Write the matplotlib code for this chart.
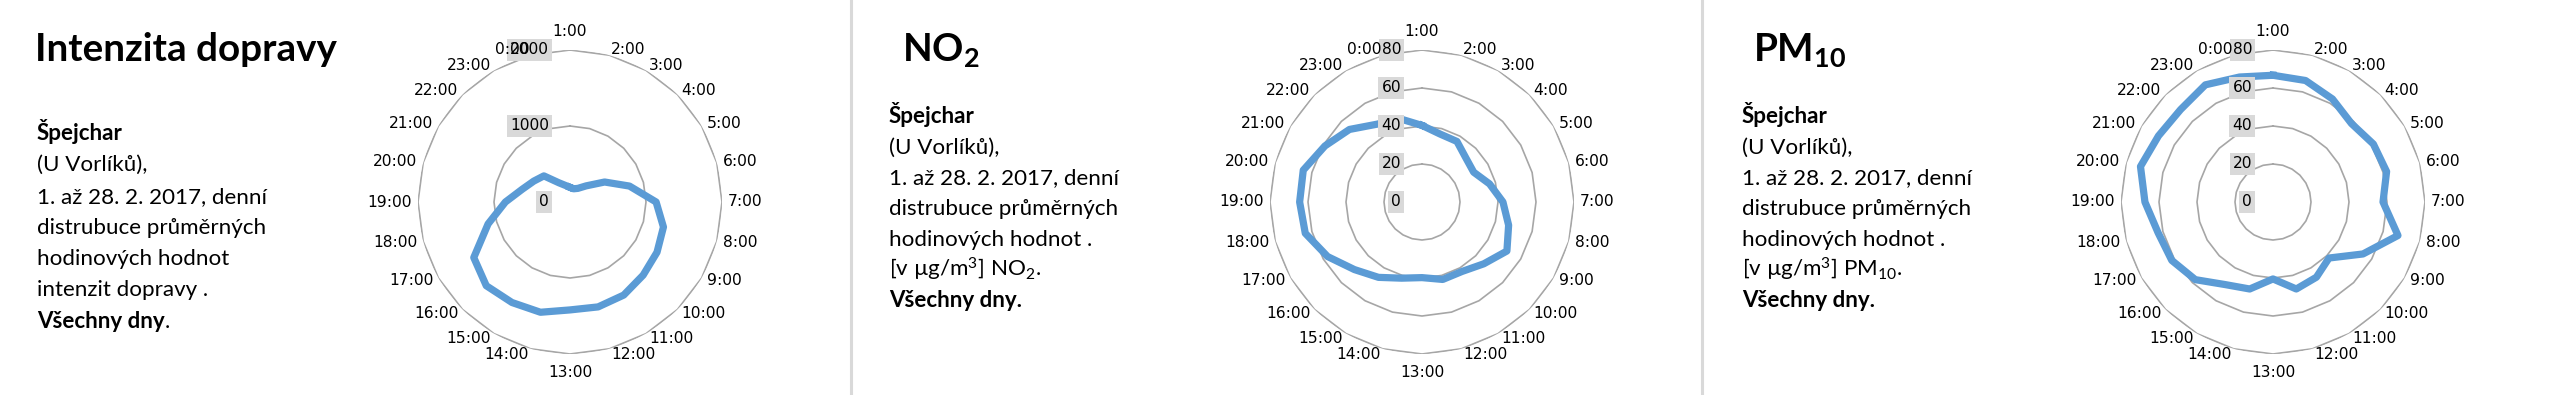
import numpy as np
import matplotlib
matplotlib.use('Agg')
import matplotlib.pyplot as plt
from matplotlib.lines import Line2D

plt.rcParams['mathtext.fontset'] = 'custom'
plt.rcParams['mathtext.rm'] = 'Lato'
plt.rcParams['mathtext.bf'] = 'Lato:bold'
plt.rcParams['mathtext.it'] = 'Lato:italic'

# hours in the order they go round the radar (1:00 at the top, clockwise)
hours = ['1:00', '2:00', '3:00', '4:00', '5:00', '6:00', '7:00', '8:00',
         '9:00', '10:00', '11:00', '12:00', '13:00', '14:00', '15:00', '16:00',
         '17:00', '18:00', '19:00', '20:00', '21:00', '22:00', '23:00', '0:00']

# average hourly values, Špejchar (U Vorlíků), 1.-28. 2. 2017
traffic = [193, 180, 207, 300, 526, 810, 1133, 1273, 1322, 1361, 1414, 1429,
           1420, 1502, 1527, 1558, 1462, 1116, 850, 650, 550, 486, 292, 225]
no2 = [40.3, 37.0, 36.8, 32.7, 31.4, 36.8, 42.6, 47.2, 51.6, 46.0, 42.2, 42.2,
       39.8, 41.5, 45.8, 50.3, 57.4, 63.6, 64.4, 64.7, 59.0, 54.0, 47.3, 45.4]
pm10 = [66.7, 66.2, 62.6, 58.4, 61.0, 61.9, 57.9, 68.1, 54.7, 41.7, 45.7, 47.4,
        40.5, 47.4, 50.2, 57.8, 61.5, 62.6, 67.4, 72.2, 69.6, 68.8, 71.2, 68.1]

traffic_ticks = [0, 1000, 2000]
conc_ticks = [0, 20, 40, 60, 80]

W, H = 2553, 395
R = 152  # radar radius in pixels
BODY = 16.1
TITLE = 27.8
fig = plt.figure(figsize=(W / 100, H / 100), dpi=100)


def px(x, y):
    return x / W, 1 - y / H


def radar(cx, cy, values, rticks):
    ax = fig.add_axes([(cx - R) / W, (H - cy - R) / H, 2 * R / W, 2 * R / H],
                      projection='polar')
    ax.set_theta_zero_location('N')
    ax.set_theta_direction(-1)
    ax.set_ylim(0, rticks[-1])
    ax.grid(False)
    ax.set_xticks([])
    ax.set_yticks([])
    ax.spines['polar'].set_visible(False)
    ax.patch.set_alpha(0)

    theta = np.arange(len(hours)) * 2 * np.pi / len(hours)
    closed = np.append(theta, theta[0])

    # polygon gridlines like in Excel radar charts
    for r in rticks[1:]:
        ax.plot(closed, [r] * len(closed), color='#a6a6a6', lw=1.2, zorder=1)

    ax.plot(closed, list(values) + [values[0]], color='#5b9bd5', lw=5.2,
            solid_joinstyle='round', zorder=3)

    # value labels on grey boxes along the 1:00 spoke
    for r in rticks:
        ax.annotate(str(r), xy=(0, r), xytext=(-15, 0), textcoords='offset points',
                    ha='right', va='center', fontsize=11.2, annotation_clip=False,
                    bbox=dict(boxstyle='square,pad=0.2', fc='#d9d9d9', ec='none'),
                    zorder=4)

    for th, lab in zip(theta, hours):
        s, c = np.sin(th), np.cos(th)
        ha = 'left' if s > 0.05 else 'right' if s < -0.05 else 'center'
        if c > 0.99:
            va, pad = 'bottom', 8
        elif c < -0.99:
            va, pad = 'top', 8
        else:
            va, pad = 'center', 4.3
        ax.annotate(lab, xy=(th, rticks[-1]), xytext=(pad * s, pad * c),
                    textcoords='offset points', ha=ha, va=va, fontsize=11.2,
                    annotation_clip=False, zorder=6)
    return ax


def text_block(x, y0, lines, step=31):
    for i, (txt, bold) in enumerate(lines):
        fig.text(*px(x, y0 + i * step), txt, family='Lato', fontsize=BODY,
                 fontweight='bold' if bold else 'normal', va='baseline')


# panel 1 - traffic
fig.text(*px(35, 61), 'Intenzita dopravy', family='Lato', fontsize=TITLE,
         fontweight='bold', va='baseline')
text_block(37, 140, [('Špejchar', True),
                     ('(U Vorlíků),', False),
                     ('1. až 28. 2. 2017, denní', False),
                     ('distrubuce průměrných', False),
                     ('hodinových hodnot', False),
                     ('intenzit dopravy .', False)], step=31.3)
last = fig.text(*px(37, 328), 'Všechny dny', family='Lato', fontsize=BODY,
                fontweight='bold', va='baseline')
fig.canvas.draw()
bb = last.get_window_extent(fig.canvas.get_renderer())
fig.text(bb.x1 / W, 1 - 328 / H, '.', family='Lato', fontsize=BODY, va='baseline')
radar(570, 202, traffic, traffic_ticks)

# panel 2 - NO2
fig.text(*px(902, 61), r'NO$_\mathbf{2}$', family='Lato', fontsize=TITLE,
         fontweight='bold', va='baseline')
text_block(889, 123, [('Špejchar', True),
                      ('(U Vorlíků),', False),
                      ('1. až 28. 2. 2017, denní', False),
                      ('distrubuce průměrných', False),
                      ('hodinových hodnot .', False),
                      (r'[v µg/m$^3$] NO$_2$.', False),
                      ('Všechny dny.', True)], step=30.7)
radar(1422, 202, no2, conc_ticks)

# panel 3 - PM10
fig.text(*px(1753, 61), r'PM$_\mathbf{10}$', family='Lato', fontsize=TITLE,
         fontweight='bold', va='baseline')
text_block(1742, 123, [('Špejchar', True),
                       ('(U Vorlíků),', False),
                       ('1. až 28. 2. 2017, denní', False),
                       ('distrubuce průměrných', False),
                       ('hodinových hodnot .', False),
                       (r'[v µg/m$^3$] PM$_{10}$.', False),
                       ('Všechny dny.', True)], step=30.7)
radar(2273, 202, pm10, conc_ticks)

# thin separators between panels
for x in [851, 1702]:
    fig.add_artist(Line2D([x / W, x / W], [0, 1], color='#d9d9d9', lw=2.2))

fig.savefig('out.png', dpi=100)
